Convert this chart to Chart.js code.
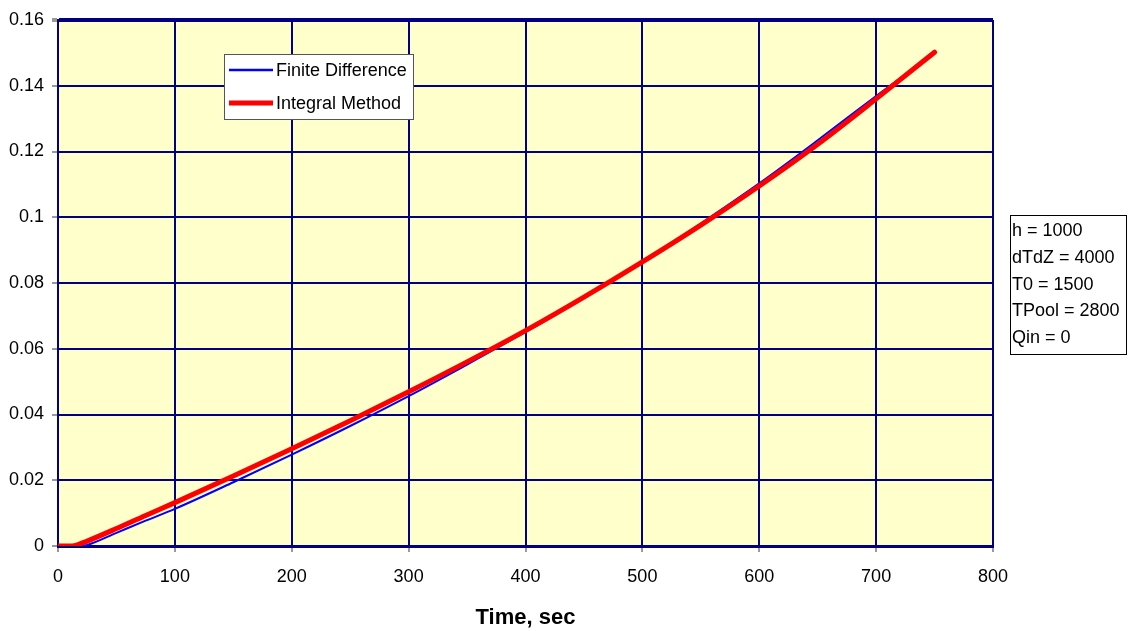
<!DOCTYPE html>
<html>
<head>
<meta charset="utf-8">
<script src="https://cdn.jsdelivr.net/npm/chart.js@4.4.1/dist/chart.umd.min.js"></script>
<style>
  html, body { margin: 0; padding: 0; background: #ffffff; }
  #wrap { width: 1128px; height: 631px; position: relative; }
</style>
</head>
<body>
<div id="wrap"><canvas id="c" width="1128" height="631"></canvas></div>
<script>
// Finite difference solution: time (s) and depth
const fdTime  = [0, 10, 20, 25, 50, 75, 100, 150, 200, 250, 300, 350, 400, 450, 500, 550, 600, 650, 700, 750];
const fdDepth = [0, 0, 0, 0.0003, 0.0040, 0.0077, 0.0113, 0.0194, 0.0278, 0.0365, 0.0456, 0.0552, 0.0651, 0.0755, 0.0865, 0.0981, 0.1103, 0.1234, 0.1369, 0.1500];

// Integral method solution: time (s) and depth
const imTime  = [0, 10, 15, 25, 50, 75, 100, 150, 200, 250, 300, 350, 400, 450, 500, 550, 600, 650, 700, 750];
const imDepth = [0, 0, 0.0002, 0.0015, 0.0053, 0.0093, 0.0132, 0.0213, 0.0296, 0.0381, 0.0469, 0.0560, 0.0655, 0.0757, 0.0864, 0.0976, 0.1095, 0.1222, 0.1360, 0.1502];

const seriesNames = ['Finite Difference', 'Integral Method'];
const xTickValues = [0, 100, 200, 300, 400, 500, 600, 700, 800];
const yTickLabels = ['0', '0.02', '0.04', '0.06', '0.08', '0.1', '0.12', '0.14', '0.16'];
const paramLines  = ['h = 1000', 'dTdZ = 4000', 'T0 = 1500', 'TPool = 2800', 'Qin = 0'];
const xTitle = 'Time, sec';

const NAVY = '#000080';
const FONT = '"Liberation Sans", Arial, sans-serif';

const toPoints = (xs, ys) => xs.map((x, i) => ({ x: x, y: ys[i] }));

// Light yellow plot background
const plotBackground = {
  id: 'plotBackground',
  beforeDraw(chart) {
    const { ctx, chartArea: a } = chart;
    ctx.save();
    ctx.fillStyle = '#FFFFCC';
    ctx.fillRect(a.left, a.top, a.right - a.left, a.bottom - a.top);
    ctx.restore();
  }
};

// Legend box drawn inside the plot area
const innerLegend = {
  id: 'innerLegend',
  afterDraw(chart) {
    const { ctx, chartArea: a } = chart;
    const x0 = a.left + 166, y0 = a.top + 34, w = 189, h = 65;
    ctx.save();
    ctx.fillStyle = '#ffffff';
    ctx.fillRect(x0, y0, w, h);
    ctx.strokeStyle = '#555555';
    ctx.lineWidth = 1;
    ctx.strokeRect(x0 + 0.5, y0 + 0.5, w, h);
    ctx.font = '18px ' + FONT;
    ctx.textBaseline = 'middle';
    ctx.fillStyle = '#000000';
    chart.data.datasets.forEach((ds, i) => {
      const yy = y0 + 16 + i * 33;
      ctx.strokeStyle = ds.borderColor;
      ctx.lineWidth = i === 0 ? 2.5 : 5;
      ctx.beginPath();
      ctx.moveTo(x0 + 5, yy);
      ctx.lineTo(x0 + 49, yy);
      ctx.stroke();
      ctx.fillText(ds.label, x0 + 52, yy + 1);
    });
    ctx.restore();
  }
};

// Parameter box to the right of the plot
const paramBox = {
  id: 'paramBox',
  afterDraw(chart) {
    const { ctx } = chart;
    const x0 = 1010, y0 = 215, w = 117, h = 139;
    ctx.save();
    ctx.fillStyle = '#ffffff';
    ctx.fillRect(x0, y0, w, h);
    ctx.strokeStyle = '#000000';
    ctx.lineWidth = 1;
    ctx.strokeRect(x0 + 0.5, y0 + 0.5, w - 1, h);
    ctx.font = '18px ' + FONT;
    ctx.textBaseline = 'middle';
    ctx.fillStyle = '#000000';
    paramLines.forEach((t, i) => ctx.fillText(t, x0 + 2, y0 + 16 + i * 26.8));
    ctx.restore();
  }
};

new Chart(document.getElementById('c'), {
  type: 'line',
  data: {
    datasets: [
      {
        label: seriesNames[0],
        data: toPoints(fdTime, fdDepth),
        borderColor: '#0000FF',
        borderWidth: 2,
        pointRadius: 0,
        cubicInterpolationMode: 'monotone',
        fill: false,
        order: 2
      },
      {
        label: seriesNames[1],
        data: toPoints(imTime, imDepth),
        borderColor: '#FF0000',
        borderWidth: 5,
        borderCapStyle: 'round',
        pointRadius: 0,
        cubicInterpolationMode: 'monotone',
        fill: false,
        order: 1
      }
    ]
  },
  plugins: [plotBackground, innerLegend, paramBox],
  options: {
    responsive: false,
    animation: false,
    events: [],
    layout: { padding: { top: 20, right: 135, left: 0, bottom: 0 } },
    plugins: {
      legend: { display: false },
      tooltip: { enabled: false },
      title: { display: false }
    },
    scales: {
      x: {
        type: 'linear',
        min: 0,
        max: 800,
        afterFit(scale) { scale.height = 85; },
        afterBuildTicks(scale) { scale.ticks = xTickValues.map(v => ({ value: v })); },
        ticks: {
          color: '#000000',
          font: { family: FONT, size: 18 },
          padding: 14,
          maxRotation: 0,
          callback: v => String(v)
        },
        grid: {
          color: NAVY,
          lineWidth: 2,
          tickColor: '#999999',
          tickLength: 6,
          drawOnChartArea: true
        },
        border: { display: true, color: NAVY, width: 3 },
        title: {
          display: true,
          text: xTitle,
          color: '#000000',
          font: { family: FONT, size: 22, weight: 'bold' },
          padding: { top: 6, bottom: 0 }
        }
      },
      y: {
        type: 'linear',
        min: 0,
        max: 0.16,
        afterFit(scale) { scale.width = 58; },
        afterBuildTicks(scale) { scale.ticks = yTickLabels.map((_, i) => ({ value: i * 0.02 })); },
        ticks: {
          color: '#000000',
          font: { family: FONT, size: 18 },
          padding: 8,
          callback: (v, i) => yTickLabels[i]
        },
        grid: {
          color: NAVY,
          lineWidth: ctx => (ctx.index === yTickLabels.length - 1 ? 4 : 2),
          tickColor: '#999999',
          tickLength: 6
        },
        border: { display: true, color: NAVY, width: 2 }
      }
    }
  }
});
</script>
</body>
</html>
